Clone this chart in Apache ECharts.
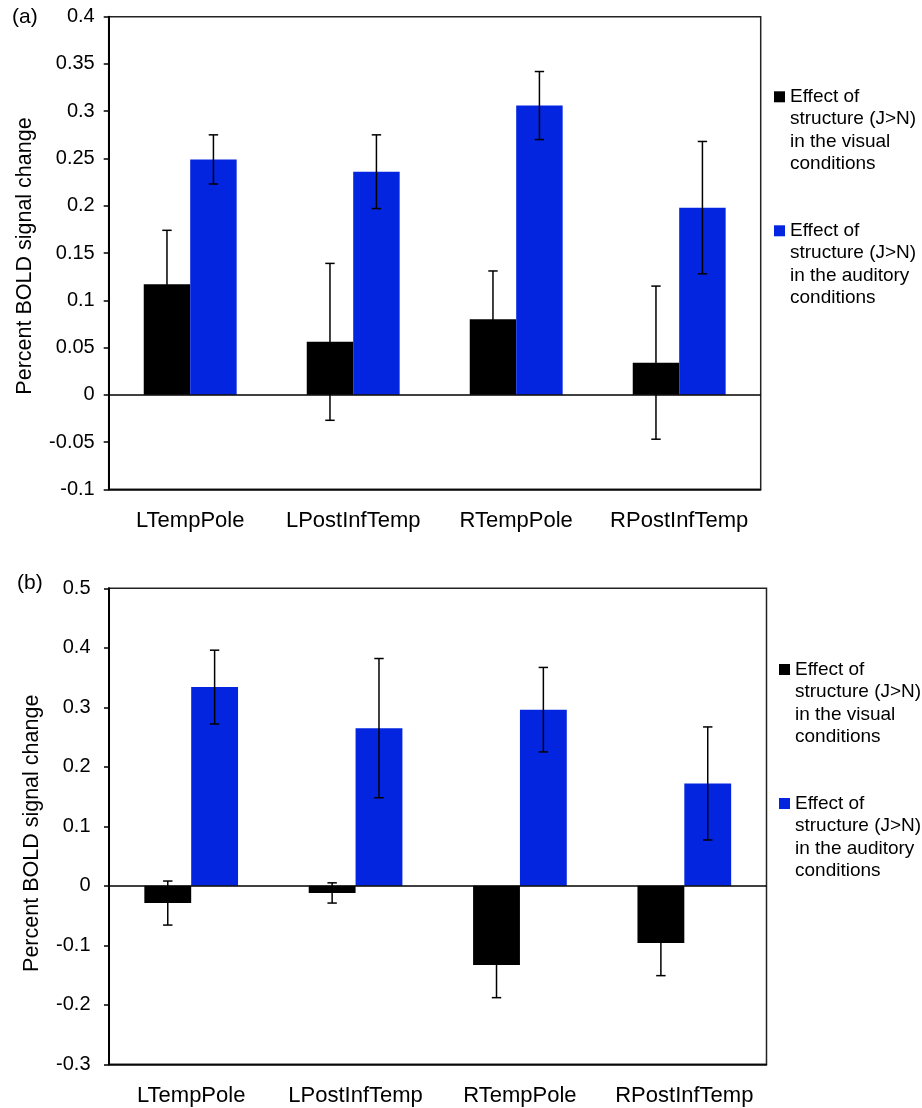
<!DOCTYPE html>
<html>
<head>
<meta charset="utf-8">
<script src="https://cdn.jsdelivr.net/npm/echarts@6/dist/echarts.min.js"></script>
<style>
  html, body { margin: 0; padding: 0; background: #fff; }
  #chart { width: 922px; height: 1108px; }
</style>
</head>
<body>
<div id="chart"></div>
<script>
// Regions of interest (x categories)
const regions = ['LTempPole', 'LPostInfTemp', 'RTempPole', 'RPostInfTemp'];

// Panel (a): mean percent BOLD signal change and error-bar half-lengths
const visualA = [0.117, 0.056, 0.080, 0.034];
const visualErrA = [0.057, 0.083, 0.051, 0.081];
const auditoryA = [0.249, 0.236, 0.306, 0.198];
const auditoryErrA = [0.026, 0.039, 0.036, 0.070];

// Panel (b)
const visualB = [-0.029, -0.012, -0.133, -0.096];
const visualErrB = [0.037, 0.017, 0.055, 0.055];
const auditoryB = [0.334, 0.265, 0.296, 0.172];
const auditoryErrB = [0.062, 0.117, 0.071, 0.095];

// Value-axis ranges
const axisA = { min: -0.1, max: 0.4, interval: 0.05 };
const axisB = { min: -0.3, max: 0.5, interval: 0.1 };

const panelLabels = ['(a)', '(b)'];
const yAxisTitle = 'Percent BOLD signal change';
const seriesNames = ['visual', 'auditory'];
const legendLines = {
  visual: ['Effect of', 'structure (J>N)', 'in the visual', 'conditions'],
  auditory: ['Effect of', 'structure (J>N)', 'in the auditory', 'conditions']
};

const FONT = '"Liberation Sans", Arial, Helvetica, sans-serif';
const BLACK = '#000000';
const BLUE = '#0325E0';
const BAR_FRAC = 0.285;
const LEGEND_LH = 22.4;

// Legend text is vertically centred on its swatch; leading blank lines keep
// the swatch level with the first line of the entry.
function legendLabel(name) {
  const lines = legendLines[name];
  return '\n'.repeat(lines.length - 1) + lines.join('\n');
}

function errorSeries(gridIdx, values, errs, side) {
  return {
    type: 'custom',
    name: 'err-' + gridIdx + '-' + side,
    xAxisIndex: gridIdx,
    yAxisIndex: gridIdx,
    z: 5,
    silent: true,
    encode: { x: 0, y: 1 },
    data: values.map((v, i) => [i, v, errs[i]]),
    renderItem: function (params, api) {
      const i = api.value(0);
      const v = api.value(1);
      const e = api.value(2);
      const band = api.size([1, 0])[0];
      const dx = side * band * BAR_FRAC / 2;
      const hi = api.coord([i, v + e]);
      const lo = api.coord([i, v - e]);
      const x = hi[0] + dx;
      const cap = 4.7;
      const st = { stroke: '#000', lineWidth: 1.5 };
      return {
        type: 'group',
        children: [
          { type: 'line', shape: { x1: x, y1: hi[1], x2: x, y2: lo[1] }, style: st },
          { type: 'line', shape: { x1: x - cap, y1: hi[1], x2: x + cap, y2: hi[1] }, style: st },
          { type: 'line', shape: { x1: x - cap, y1: lo[1], x2: x + cap, y2: lo[1] }, style: st }
        ]
      };
    }
  };
}

function barSeries(gridIdx, name, values, color, withZero) {
  const s = {
    type: 'bar',
    name: name,
    xAxisIndex: gridIdx,
    yAxisIndex: gridIdx,
    data: values,
    barWidth: (BAR_FRAC * 100) + '%',
    barGap: '0%',
    itemStyle: { color: color },
    z: 2
  };
  if (withZero) {
    s.markLine = {
      silent: true,
      symbol: 'none',
      label: { show: false },
      lineStyle: { color: '#000', width: 1.5, type: 'solid' },
      data: [{ yAxis: 0 }],
      z: 4
    };
  }
  return s;
}

function xAxisFor(gridIdx) {
  return {
    type: 'category',
    gridIndex: gridIdx,
    data: regions,
    axisLine: { onZero: false, lineStyle: { color: '#000', width: 1.5 } },
    axisTick: { show: false },
    axisLabel: { color: '#000', fontSize: 22, fontFamily: FONT, margin: 21, interval: 0 }
  };
}

function yAxisFor(gridIdx, range, labelMargin, nameGap, namePad) {
  return {
    type: 'value',
    gridIndex: gridIdx,
    min: range.min,
    max: range.max,
    interval: range.interval,
    splitLine: { show: false },
    axisLine: { show: true, lineStyle: { color: '#000', width: 2 } },
    axisTick: { show: true, length: 5, lineStyle: { color: '#000', width: 1.5 } },
    axisLabel: {
      color: '#000', fontSize: 20, fontFamily: FONT, margin: labelMargin,
      formatter: v => String(parseFloat(v.toFixed(2)))
    },
    name: yAxisTitle,
    nameLocation: 'middle',
    nameRotate: 90,
    nameGap: nameGap,
    nameTextStyle: { color: '#000', fontSize: 21.5, fontFamily: FONT, padding: namePad }
  };
}

function legendFor(left, top) {
  return {
    data: seriesNames,
    orient: 'vertical',
    left: left,
    top: top,
    padding: 0,
    icon: 'rect',
    itemWidth: 11,
    itemHeight: 11,
    itemGap: 134 - 7 * LEGEND_LH,
    selectedMode: false,
    formatter: legendLabel,
    textStyle: { color: '#000', fontSize: 19, lineHeight: LEGEND_LH, fontFamily: FONT }
  };
}

const chart = echarts.init(document.getElementById('chart'), null, { renderer: 'canvas' });

chart.setOption({
  animation: false,
  backgroundColor: '#fff',
  title: [
    { text: panelLabels[0], left: 12, top: 7, padding: 0,
      textStyle: { color: '#000', fontSize: 21, fontWeight: 'normal', fontFamily: FONT } },
    { text: panelLabels[1], left: 17, top: 573, padding: 0,
      textStyle: { color: '#000', fontSize: 21, fontWeight: 'normal', fontFamily: FONT } }
  ],
  legend: [legendFor(774, 91.3 - 3.5 * LEGEND_LH + 5.5), legendFor(779, 664 - 3.5 * LEGEND_LH + 5.5)],
  grid: [
    { left: 108.7, top: 16.7, width: 652, height: 472.6, show: true,
      borderColor: '#222', borderWidth: 1.5, backgroundColor: 'transparent' },
    { left: 109, top: 588.3, width: 657.5, height: 476, show: true,
      borderColor: '#222', borderWidth: 1.5, backgroundColor: 'transparent' }
  ],
  xAxis: [xAxisFor(0), xAxisFor(1)],
  yAxis: [
    yAxisFor(0, axisA, 14, 73, [0, 6, 0, 0]),
    yAxisFor(1, axisB, 18.5, 66, [0, 14, 0, 0])
  ],
  series: [
    barSeries(0, seriesNames[0], visualA, BLACK, true),
    barSeries(0, seriesNames[1], auditoryA, BLUE, false),
    errorSeries(0, visualA, visualErrA, -1),
    errorSeries(0, auditoryA, auditoryErrA, 1),
    barSeries(1, seriesNames[0], visualB, BLACK, true),
    barSeries(1, seriesNames[1], auditoryB, BLUE, false),
    errorSeries(1, visualB, visualErrB, -1),
    errorSeries(1, auditoryB, auditoryErrB, 1)
  ]
});
</script>
</body>
</html>
